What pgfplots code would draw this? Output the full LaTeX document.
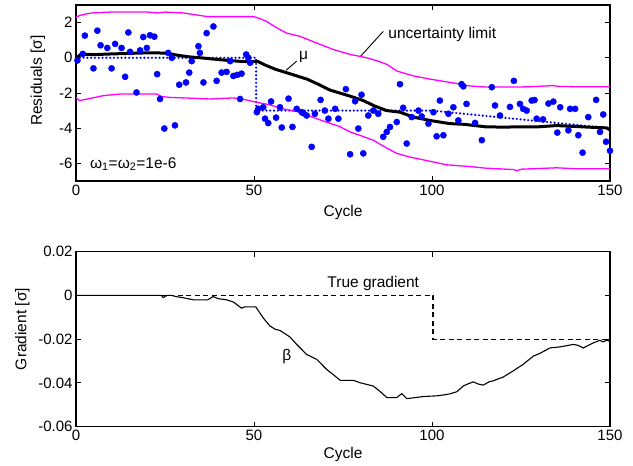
\documentclass[border=0pt]{standalone}
\usepackage{pgfplots}
\usepackage{pgfplotstable}
\pgfplotsset{compat=1.18}
\usepackage{fontspec}
\setmainfont{Liberation Sans}

\definecolor{mblue}{RGB}{0,0,255}
\definecolor{mmag}{RGB}{255,0,255}

\newcommand\tickfont{\fontsize{15}{18}\selectfont}
\newcommand\labfont{\fontsize{15.5}{18}\selectfont}

\pgfplotsset{
  panel/.style={
    scale only axis, width=534pt, anchor=south west,
    xmin=0, xmax=150, xtick={0,50,100,150}, xticklabels={0,50,100,150},
    scaled ticks=false,
    tick align=inside, major tick length=5pt,
    axis line style={line width=1.2pt},
    every tick/.append style={line width=0.9pt, black},
    tick label style={font=\tickfont},
    label style={font=\labfont},
    /pgf/number format/assume math mode=true,
    clip=false,
  },
}

% residual scatter (one value per cycle)
\pgfplotstableread{
x y
0.4 -0.15
1.9 0.22
2.5 1.26
4.9 -0.6
6.0 1.54
6.9 0.71
8.8 0.56
10.0 -0.6
11.0 0.79
12.8 0.56
13.8 -1.08
14.7 1.44
15.2 0.34
17.0 -1.97
18.0 0.42
18.9 1.18
19.9 0.56
20.8 1.28
22.0 1.2
22.8 -0.93
23.6 -2.34
24.8 -4.02
25.9 0.28
26.9 0.0
27.8 -3.84
29.0 -1.53
30.9 -1.4
31.8 -0.84
32.5 -0.19
34.4 0.66
34.8 0.28
35.8 -1.4
36.7 1.4
38.6 1.78
39.5 -1.31
40.9 -0.84
42.3 -0.8
43.3 -0.19
44.2 -1.03
45.3 -0.97
46.1 -2.34
46.5 -0.9
47.8 0.19
48.4 0.0
48.9 -0.28
50.8 -3.09
51.2 -2.9
52.6 -2.81
53.1 -3.46
54.0 -3.71
54.8 -2.48
56.2 -3.4
57.3 -2.81
57.8 -3.96
59.7 -2.32
60.8 -3.93
62.0 -2.9
63.4 -3.09
63.9 -3.15
64.8 -3.28
66.2 -5.06
67.1 -3.18
68.7 -2.39
69.9 -3.0
70.9 -3.46
72.8 -2.9
73.7 -3.46
75.8 -1.78
77.0 -5.48
78.4 -2.47
79.3 -4.02
80.2 -2.1
80.7 -5.43
82.1 -3.28
83.5 -3.0
84.9 -3.18
86.3 -4.49
87.3 -4.21
88.2 -3.93
90.1 -3.65
91.0 -1.5
91.9 -2.84
92.9 -4.87
94.3 -3.37
96.2 -3.0
97.1 -3.33
99.0 -3.74
100.4 -3.09
101.3 -4.46
102.2 -2.43
103.2 -4.4
104.6 -3.18
106.0 -2.81
107.4 -3.56
108.3 -1.5
108.8 -1.62
109.7 -2.62
112.1 -3.7
114.0 -4.68
116.8 -1.67
117.7 -2.71
119.1 -3.28
121.9 -2.79
123.0 -1.31
124.7 -2.62
125.6 -2.9
126.6 -3.0
128.0 -2.43
128.8 -2.4
129.4 -3.46
131.2 -3.5
132.7 -2.6
134.1 -2.49
135.2 -4.25
136.0 -2.81
138.3 -4.12
138.8 -2.9
140.2 -2.9
141.1 -4.4
142.3 -5.39
143.9 -3.37
146.1 -2.39
147.2 -4.21
148.1 -3.22
148.9 -4.77
150.0 -5.28
}\tabResid

% true mean of the residuals
\pgfplotstableread{
x y
0 0
50.6 0
50.6 -3
100 -3
150 -4
}\tabTrueMean

% estimated mean mu
\pgfplotstableread{
x y
0 -0.05
1 0.15
2 0.2
5 0.18
10 0.22
15 0.25
20 0.28
25 0.27
29 0.13
32 0.05
35 0
40 -0.1
43 -0.15
46 -0.2
49 -0.22
51 -0.2
53 -0.4
56 -0.65
60 -0.9
65 -1.22
68 -1.5
71.3 -1.83
77 -2.18
80.7 -2.43
84 -2.75
87.3 -3.0
91 -3.09
94.8 -3.37
99.4 -3.56
105 -3.74
109 -3.78
115 -3.92
120 -3.94
125 -3.92
130 -3.92
135 -3.85
140 -3.9
145 -3.95
149 -3.98
150 -4.1
}\tabMu

% upper uncertainty limit
\pgfplotstableread{
x y
0 2.3
1 2.4
3 2.5
5 2.56
10 2.6
20 2.6
23 2.55
25 2.6
30 2.55
35 2.4
37 2.34
45 2.34
50 2.34
52 2.2
53.6 2.06
56 1.75
59.2 1.4
62.9 1.22
67.6 0.84
72.3 0.47
77 0.19
81.7 0
85 -0.2
87.3 -0.37
90.1 -0.75
94.8 -1.03
99.4 -1.21
103 -1.33
107 -1.46
110.7 -1.6
115 -1.66
125 -1.66
130 -1.62
134 -1.58
136 -1.63
140 -1.64
150 -1.65
}\tabUpper

% lower uncertainty limit
\pgfplotstableread{
x y
0 -2.25
1 -2.43
3 -2.35
7.7 -2.15
12.4 -2.06
22.7 -2.06
24 -2.2
26.4 -2.25
33 -2.3
37.6 -2.34
44.2 -2.28
48 -2.4
50.8 -2.53
54 -2.65
58.2 -2.9
62.9 -3.09
67.6 -3.46
71 -3.7
74 -3.9
77 -4.21
83.5 -4.68
87 -5.1
90.1 -5.43
94 -5.65
97.6 -5.8
104.1 -6.08
110.7 -6.18
115 -6.27
123 -6.35
123.8 -6.42
125 -6.33
135 -6.25
140 -6.3
150 -6.3
}\tabLower

% estimated gradient beta
\pgfplotstableread{
x y
0 0
24 0
24.5 -0.001
25.5 0
27 0
28 -0.0005
30 -0.001
33 -0.002
37 -0.002
38.5 -0.0005
40 -0.0015
42.3 -0.002
44.2 -0.003
46.5 -0.0058
47.5 -0.0052
50.5 -0.0052
52.6 -0.0103
54.5 -0.014
56 -0.0155
57.3 -0.016
60.1 -0.019
62 -0.0224
64.8 -0.027
67.6 -0.0292
70.4 -0.0338
72.5 -0.0365
74.2 -0.0388
76 -0.0388
77.9 -0.0388
79.8 -0.0399
83.5 -0.0414
85.5 -0.044
87.3 -0.0467
90.1 -0.0467
91.5 -0.0449
92.9 -0.0472
97.6 -0.0462
101.3 -0.0459
103.2 -0.0455
105 -0.045
107 -0.044
108.8 -0.0414
110 -0.0405
111.6 -0.0395
113 -0.0405
114.4 -0.041
116 -0.0395
117.2 -0.039
120 -0.0373
122.8 -0.0345
125.6 -0.0315
128.5 -0.0277
130.3 -0.0265
133.1 -0.024
136 -0.0235
139.7 -0.0224
141 -0.0228
142.5 -0.024
145.3 -0.0217
147.2 -0.0205
148 -0.0212
149.1 -0.0205
150 -0.021
}\tabBeta

% true gradient
\pgfplotstableread{
x y
0 0
100.3 0
100.3 -0.02
150 -0.02
}\tabTrueGrad

\begin{document}
\begin{tikzpicture}
\path (0,0) rectangle (633pt,466pt);

\begin{axis}[panel, at={(76pt,285pt)}, height=176pt,
  ymin=-7, ymax=3, ytick={-6,-4,-2,0,2}, yticklabels={-6,-4,-2,0,2},
  xlabel={Cycle}, ylabel={Residuals [σ]},
  xlabel style={at={(axis description cs:0.5,-0.179)}, anchor=center},
  ylabel style={at={(axis description cs:-0.0712,0.57)}, anchor=center},
]
\addplot[only marks, mark=*, mark size=3.1pt, mblue,
  mark options={draw=mblue, fill=mblue}] table {\tabResid};
\addplot[mblue, line width=2.4pt, line cap=round,
  dash pattern=on 0pt off 3.8pt] table {\tabTrueMean};
\addplot[mmag, line width=1.3pt] table {\tabUpper};
\addplot[mmag, line width=1.3pt] table {\tabLower};
\addplot[black, line width=3pt] table {\tabMu};
\draw[black, line width=0.9pt] (axis cs:80,0.1) -- (axis cs:86.3,1.5);
\node[anchor=west, font=\labfont, inner sep=0pt] at (axis cs:87.7,1.31) {uncertainty limit};
\draw[black, line width=0.9pt] (axis cs:59,-0.71) -- (axis cs:62,-0.19);
\node[font=\labfont, inner sep=0pt] at (axis cs:63.9,0.05) {μ};
\node[anchor=west, font=\labfont, inner sep=0pt] at (axis cs:3.9,-6.05)
  {ω\textsubscript{1}=ω\textsubscript{2}=1e-6};
\end{axis}

\begin{axis}[panel, at={(76pt,39.3pt)}, height=175pt,
  ymin=-0.06, ymax=0.02, ytick={-0.06,-0.04,-0.02,0,0.02},
  yticklabels={-0.06,-0.04,-0.02,0,0.02},
  xlabel={Cycle}, ylabel={Gradient [σ]},
  xlabel style={at={(axis description cs:0.5,-0.156)}, anchor=center},
  ylabel style={at={(axis description cs:-0.1002,0.558)}, anchor=center},
]
\addplot[black, line width=1.3pt, dash pattern=on 5pt off 3.5pt] table {\tabTrueGrad};
\addplot[black, line width=1.1pt] table {\tabBeta};
\node[font=\labfont, inner sep=0pt] at (axis cs:83.5,0.0056) {True gradient};
\node[font=\labfont, inner sep=0pt] at (axis cs:59.2,-0.0277) {β};
\end{axis}
\end{tikzpicture}
\end{document}
